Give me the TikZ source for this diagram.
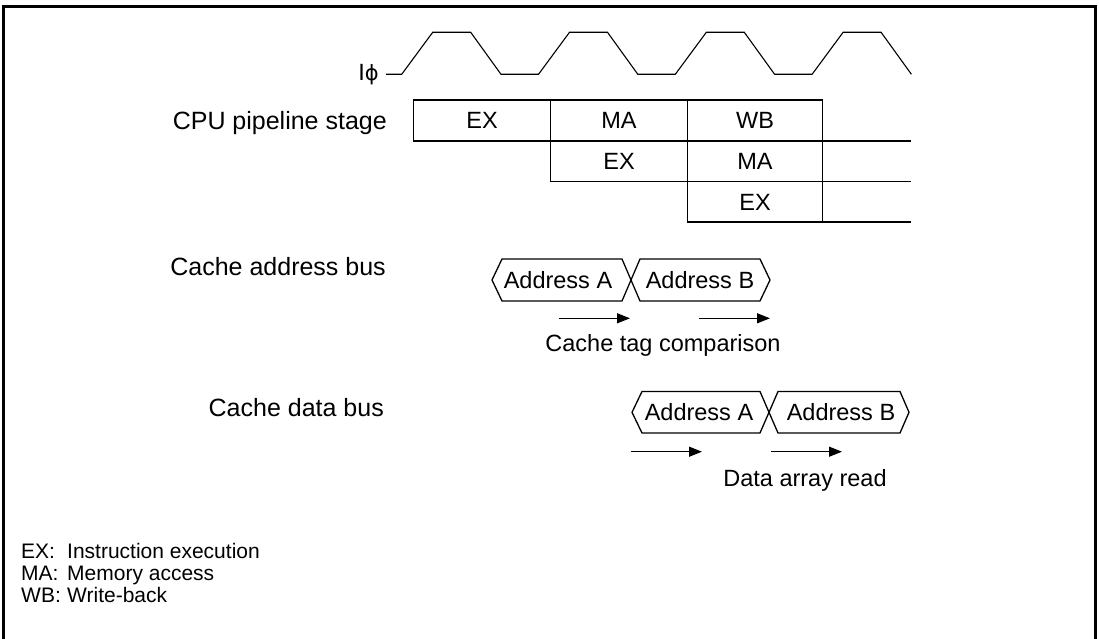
\documentclass[tikz,border=0pt]{standalone}
\usepackage{fontspec}
\setmainfont{Liberation Sans}
\newfontfamily\phifont{DejaVu Sans}
\usetikzlibrary{arrows.meta}
\begin{document}
\begin{tikzpicture}[x=1bp,y=-1bp,
  lbl/.style={font=\fontsize{23.5bp}{28bp}\selectfont, inner sep=0pt, anchor=base},
  rlbl/.style={font=\fontsize{25bp}{30bp}\selectfont, inner sep=0pt, anchor=base east},
  lgd/.style={font=\fontsize{21bp}{26bp}\selectfont, inner sep=0pt, anchor=base west},
  wire/.style={line width=1.3bp, line join=miter},
  clk/.style={line width=1.1bp, line join=miter},
  frame/.style={line width=3bp},
  arr/.style={line width=1.3bp, -{Triangle[length=13bp,width=10bp]}},
]
\useasboundingbox (0,0) rectangle (1099,639);
% outer frame (bottom edge outside the picture)
\draw[frame] (3.5,700) -- (3.5,6.5) -- (1095.5,6.5) -- (1095.5,700);

% clock
\node[font=\fontsize{23.5bp}{28bp}\selectfont, inner sep=0pt, anchor=base east] (clkl) at (379,80.5) {I{\phifont\fontsize{21bp}{25bp}\selectfont ϕ}};
\draw[clk] (386,74.3) -- (401.7,74.3)
  -- (432.7,32.3) -- (470.7,32.3) -- (501,74.3) -- (538.5,74.3)
  -- (569.5,32.3) -- (607.5,32.3) -- (637.8,74.3) -- (675.3,74.3)
  -- (706.3,32.3) -- (744.3,32.3) -- (774.6,74.3) -- (812.1,74.3)
  -- (843.1,32.3) -- (881.1,32.3) -- (911.4,74.3);

% pipeline
\node[rlbl] (cpul) at (387,129.5) {CPU pipeline stage};
\draw[wire] (413.3,100) -- (822.7,100);
\draw[wire] (413.3,141) -- (911,141);
\draw[wire] (550.7,181.7) -- (911,181.7);
\draw[wire] (687.3,222) -- (911,222);
\draw[wire] (413.3,100) -- (413.3,141);
\draw[wire] (550.7,100) -- (550.7,181.7);
\draw[wire] (687.3,100) -- (687.3,222);
\draw[wire] (822.7,100) -- (822.7,222);
\node[lbl] (p1ex) at (482,129) {EX};
\node[lbl] (p1ma) at (619,129) {MA};
\node[lbl] (p1wb) at (755,129) {WB};
\node[lbl] (p2ex) at (619,170) {EX};
\node[lbl] (p2ma) at (755,170) {MA};
\node[lbl] (p3ex) at (755,210.5) {EX};

% cache address bus
\node[rlbl] (cabl) at (386,276) {Cache address bus};
\draw[wire] (631,280) -- (622,259) -- (502,259) -- (492,280) -- (502,301) -- (622,301) -- (631,280)
  -- (640,259) -- (760,259) -- (770,280) -- (760,301) -- (640,301) -- cycle;
\node[lbl] (caa) at (558,288.5) {Address A};
\node[lbl] (cab) at (700,288.5) {Address B};
\coordinate (ta1) at (559,318.3);
\coordinate (tb1) at (630,318.3);
\coordinate (ta2) at (699,318.3);
\coordinate (tb2) at (770,318.3);
\draw[arr] (ta1) -- (tb1);
\draw[arr] (ta2) -- (tb2);
\node[lbl] (tagl) at (663,351.5) {Cache tag comparison};

% cache data bus
\node[rlbl] (cdbl) at (384,416.5) {Cache data bus};
\draw[wire] (769,412.3) -- (760,391.5) -- (642,391.5) -- (632,412.3) -- (642,433) -- (760,433) -- (769,412.3)
  -- (778,391.5) -- (900,391.5) -- (909,412.3) -- (900,433) -- (778,433) -- cycle;
\node[lbl] (cda) at (699,420.5) {Address A};
\node[lbl] (cdb) at (841,420.5) {Address B};
\coordinate (da1) at (631,451.7);
\coordinate (db1) at (702,451.7);
\coordinate (da2) at (771,451.7);
\coordinate (db2) at (842,451.7);
\draw[arr] (da1) -- (db1);
\draw[arr] (da2) -- (db2);
\node[lbl] (datl) at (805,486) {Data array read};

% legend
\node[lgd] (lg1a) at (21,558) {EX:};
\node[lgd] (lg1b) at (67,558) {Instruction execution};
\node[lgd] (lg2a) at (21,580) {MA:};
\node[lgd] (lg2b) at (67,580) {Memory access};
\node[lgd] (lg3a) at (21,602) {WB:};
\node[lgd] (lg3b) at (67,602) {Write-back};
\end{tikzpicture}
\end{document}
